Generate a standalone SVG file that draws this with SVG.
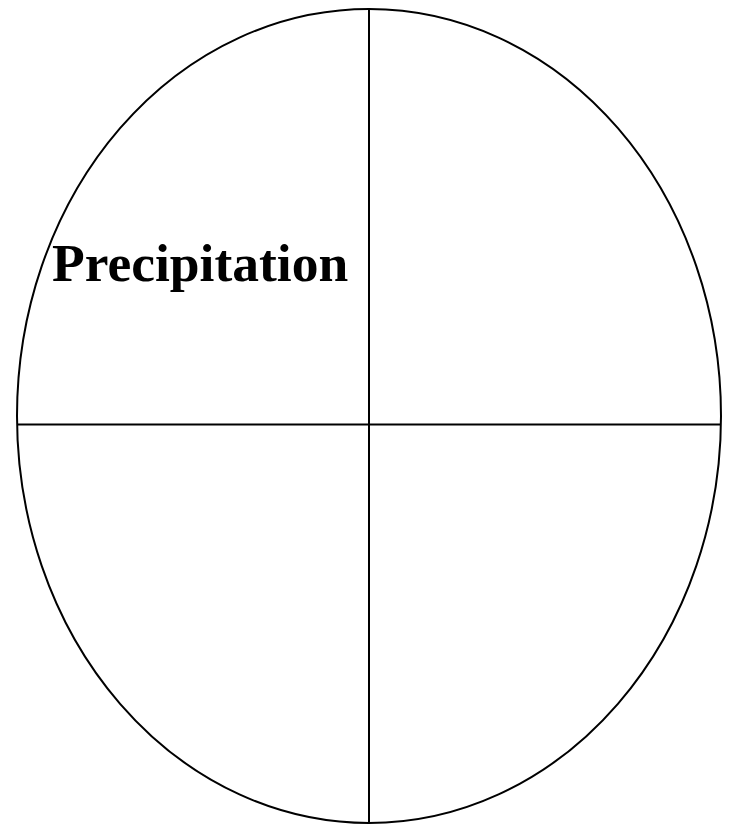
<svg xmlns="http://www.w3.org/2000/svg" width="729" height="825" viewBox="0 0 729 825">
<style>
.ln{stroke:#000;stroke-width:2;fill:none}
.lbl{font-family:"Liberation Serif","Times New Roman",serif;font-weight:bold;font-size:53.5px;fill:#000}
</style>
<rect width="729" height="825" fill="#fff"/>
<g id="connectors">
<line class="ln" x1="369" y1="9" x2="369" y2="823"/>
<line class="ln" x1="17" y1="424.5" x2="721" y2="424.5"/>
</g>
<g id="circle"><ellipse class="ln" cx="369" cy="416" rx="352" ry="407"/></g>
<g id="precipitation"><text class="lbl" x="52" y="281">Precipitation</text></g>
</svg>
